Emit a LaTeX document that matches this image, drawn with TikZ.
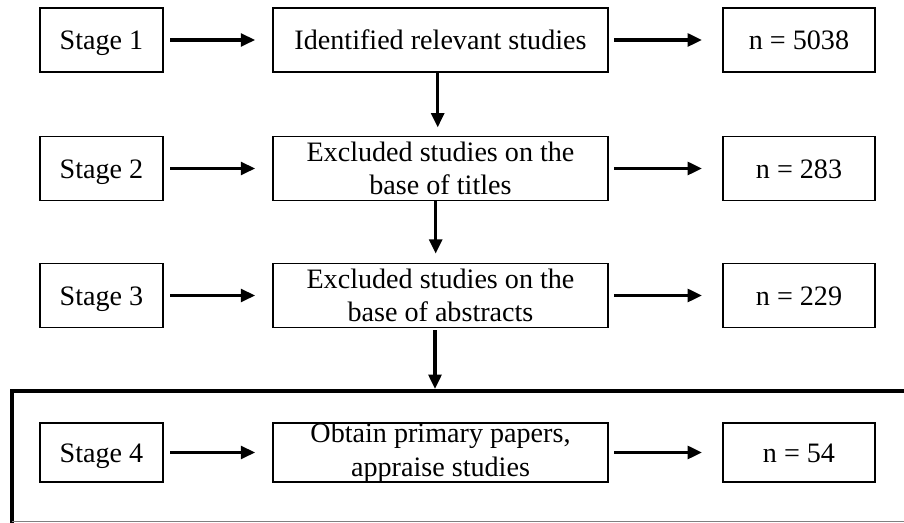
\documentclass[tikz,border=0pt]{standalone}
\usepackage{fontspec}
\setmainfont{Liberation Serif}
\usetikzlibrary{arrows.meta}
\tikzset{
  flowbox/.style={draw, line width=1.4pt, inner sep=0pt, align=center,
    font=\fontsize{20}{24}\selectfont},
  oneline/.style={text height=17.6pt, text depth=3.4pt},
  stagebox/.style={flowbox, oneline, minimum width=3.075cm, minimum height=1.6cm},
  stepbox/.style={flowbox, minimum width=8.375cm, minimum height=1.6cm},
  countbox/.style={flowbox, oneline, minimum width=3.8cm, minimum height=1.6cm},
  flowarrow/.style={line width=2.4pt, -{Triangle[length=0.36cm, width=0.32cm]}},
}

\begin{document}
\begin{tikzpicture}[x=0.025cm, y=-0.025cm]
    \useasboundingbox (0,0) rectangle (904,523);
    % outer frame round the last stage
    \draw[line width=2.8pt] (904,391) -- (12,391) -- (12,523);
    \draw[gray, line width=0.7pt] (12,521) -- (904,521);
    \coordinate (frametop) at (435,389);

    % rows
    \node[stagebox] (stage1) at (101.5,40) {Stage 1};
    \node[stepbox, oneline] (ident) at (440.5,40) {Identified relevant studies};
    \node[countbox] (n1)     at (799,40)   {n = 5038};

    \node[stagebox] (stage2) at (101.5,168.5) {Stage 2};
    \node[stepbox]  (titles) at (440.5,168.5) {Excluded studies on the\\base of titles};
    \node[countbox] (n2)     at (799,168.5)   {n = 283};

    \node[stagebox] (stage3) at (101.5,295.5) {Stage 3};
    \node[stepbox]  (abstr)  at (440.5,295.5) {Excluded studies on the\\base of abstracts};
    \node[countbox] (n3)     at (799,295.5)   {n = 229};

    \node[stagebox, minimum height=1.475cm] (stage4) at (101.5,452.5) {Stage 4};
    \node[stepbox, minimum height=1.475cm]  (papers) at (440.5,452.5) {Obtain primary papers,\\appraise studies};
    \node[countbox, minimum height=1.475cm] (n4)     at (799,452.5)   {n = 54};

    % arrows across
    \foreach \s/\m/\n in {stage1/ident/n1, stage2/titles/n2, stage3/abstr/n3, stage4/papers/n4} {
      \draw[flowarrow, shorten <=0.15cm, shorten >=0.42cm] (\s.east) -- (\m.west);
      \draw[flowarrow, shorten <=0.13cm, shorten >=0.5cm] (\m.east) -- (\n.west);
    }

    % arrows down
    \draw[flowarrow, shorten >=0.2cm] ([xshift=-0.07cm]ident.south) -- ([xshift=-0.07cm]titles.north);
    \draw[flowarrow, shorten >=0.22cm] ([xshift=-0.12cm]titles.south) -- ([xshift=-0.12cm]abstr.north);
    \draw[flowarrow, shorten <=0.05cm] (abstr.south -| frametop) -- (frametop);
  \end{tikzpicture}
\end{document}
